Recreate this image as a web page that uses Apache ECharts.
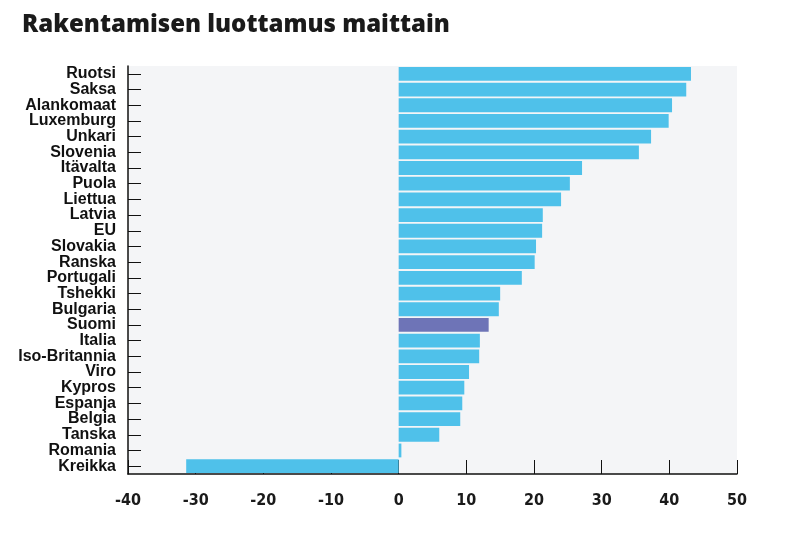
<!DOCTYPE html>
<html><head><meta charset="utf-8">
<script src="https://cdn.jsdelivr.net/npm/echarts@6/dist/echarts.min.js"></script>
<style>html,body{margin:0;padding:0;background:#fff}#c{width:786px;height:534px}</style>
</head><body><div id="c"></div>
<script>
const categories = ["Ruotsi","Saksa","Alankomaat","Luxemburg","Unkari","Slovenia","Itävalta","Puola","Liettua","Latvia","EU","Slovakia","Ranska","Portugali","Tshekki","Bulgaria","Suomi","Italia","Iso-Britannia","Viro","Kypros","Espanja","Belgia","Tanska","Romania","Kreikka"];
const values = [43.2,42.5,40.4,39.9,37.3,35.5,27.1,25.3,24.0,21.3,21.2,20.3,20.1,18.2,15.0,14.8,13.3,12.0,11.9,10.4,9.7,9.4,9.1,6.0,0.4,-31.4];
const highlight = "Suomi";
const xTicks = [-40,-30,-20,-10,0,10,20,30,40,50];

const chart = echarts.init(document.getElementById('c'));
chart.setOption({
  animation:false,
  backgroundColor:'#fff',
  title:{text:'Rakentamisen luottamus maittain',left:17,top:8,
    textStyle:{fontFamily:'Open Sans',fontWeight:800,fontSize:24,color:'#1a1a1a'}},
  grid:{left:128,right:49,top:66,bottom:60,show:true,backgroundColor:'#f4f5f7',borderWidth:0},
  xAxis:{type:'value',min:xTicks[0],max:xTicks[xTicks.length-1],interval:10,
    axisLine:{show:true,onZero:false,lineStyle:{color:'#111',width:1.5}},
    axisTick:{show:true,inside:true,length:14,lineStyle:{color:'#111'}},
    splitLine:{show:false},
    axisLabel:{margin:19,color:'#1a1a1a',fontFamily:'DejaVu Sans Condensed, Liberation Sans, sans-serif',fontWeight:'bold',fontSize:16}},
  yAxis:{type:'category',data:categories,inverse:true,
    axisLine:{show:true,onZero:false,lineStyle:{color:'#111',width:1.5}},
    axisTick:{show:true,inside:true,length:13,alignWithLabel:true,lineStyle:{color:'#111'}},
    axisLabel:{margin:12,color:'#111',fontFamily:'Liberation Sans',fontWeight:'bold',fontSize:16,interval:0}},
  series:[{type:'bar',barCategoryGap:'12%',
    data:values.map((v,i)=>({value:v,itemStyle:{color:categories[i]===highlight?'#6e74b7':'#4fc1ea'}}))}]
});
</script></body></html>
